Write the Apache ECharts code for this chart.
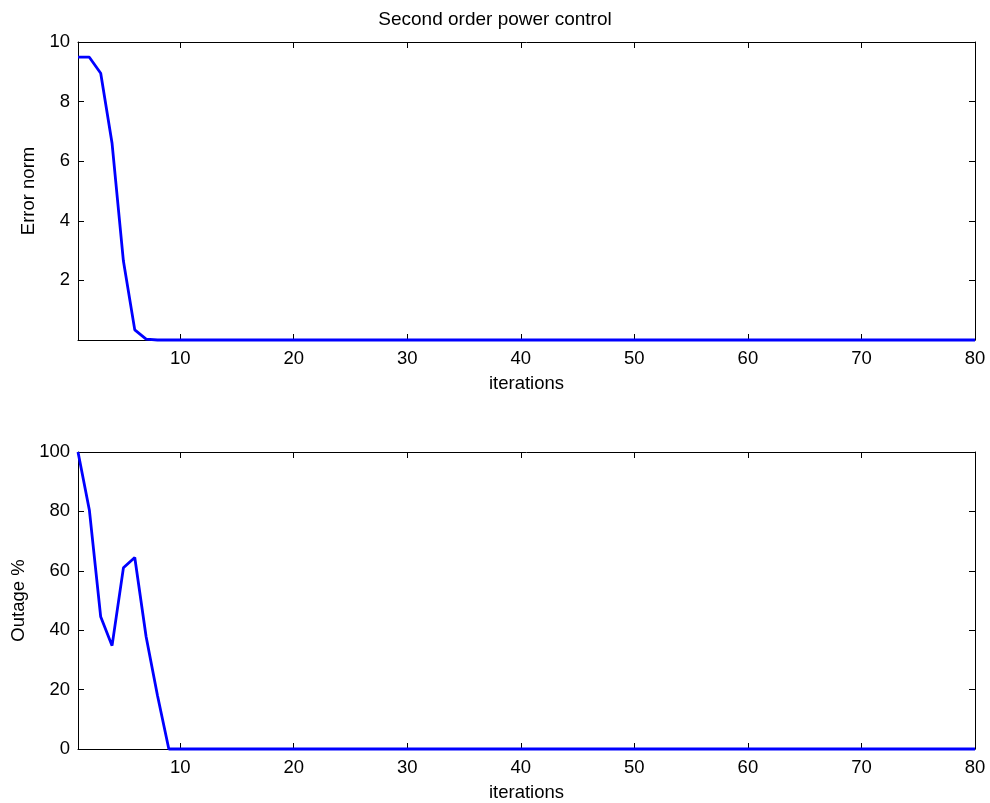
<!DOCTYPE html>
<html>
<head>
<meta charset="utf-8">
<script src="https://cdn.jsdelivr.net/npm/echarts@6/dist/echarts.min.js"></script>
<style>html,body{margin:0;padding:0;background:#fff}#c{width:990px;height:803px}</style>
</head>
<body>
<div id="c"></div>
<script>
var iterations = [1,2,3,4,5,6,7,8,9,10,11,12,13,14,15,16,17,18,19,20,21,22,23,24,25,26,27,28,29,30,31,32,33,34,35,36,37,38,39,40,41,42,43,44,45,46,47,48,49,50,51,52,53,54,55,56,57,58,59,60,61,62,63,64,65,66,67,68,69,70,71,72,73,74,75,76,77,78,79,80];
var errorNorm = [9.49,9.49,8.95,6.6,2.65,0.34,0.03,0,0,0,0,0,0,0,0,0,0,0,0,0,0,0,0,0,0,0,0,0,0,0,0,0,0,0,0,0,0,0,0,0,0,0,0,0,0,0,0,0,0,0,0,0,0,0,0,0,0,0,0,0,0,0,0,0,0,0,0,0,0,0,0,0,0,0,0,0,0,0,0,0];
var outage = [100,80.5,44.5,34.8,61,64.5,37.8,18,0,0,0,0,0,0,0,0,0,0,0,0,0,0,0,0,0,0,0,0,0,0,0,0,0,0,0,0,0,0,0,0,0,0,0,0,0,0,0,0,0,0,0,0,0,0,0,0,0,0,0,0,0,0,0,0,0,0,0,0,0,0,0,0,0,0,0,0,0,0,0,0];
var xTicks = [10,20,30,40,50,60,70,80];
var titleText = 'Second order power control';

function pairs(ys){ return iterations.map(function(x,i){ return [x, ys[i]]; }); }

var FONT = '"Liberation Sans", Arial, Helvetica, sans-serif';
var FS = 18.5;
var lineStyle = {color:'#000', width:1};

function xAx(grid, show) {
  return {
    type:'value', gridIndex:grid, min:1, max:80, position: show ? 'bottom':'top',
    name: show ? 'iterations' : '', nameLocation:'middle', nameGap: 34,
    nameTextStyle:{color:'#000', fontSize:FS, fontFamily:FONT},
    axisLine:{show:true, onZero:false, lineStyle:lineStyle},
    axisTick:{show:true, inside:true, length:6, customValues:xTicks, lineStyle:lineStyle},
    axisLabel:{show:show, customValues:xTicks, color:'#000', fontSize:FS, fontFamily:FONT, margin:9},
    splitLine:{show:false}
  };
}
function yAx(grid, show, min, max, interval, name, nameGap, hideZero) {
  return {
    type:'value', gridIndex:grid, min:min, max:max, interval:interval, position: show ? 'left':'right',
    name: show ? name : '', nameLocation:'middle', nameGap:nameGap,
    nameTextStyle:{color:'#000', fontSize:FS, fontFamily:FONT},
    axisLine:{show:true, onZero:false, lineStyle:lineStyle},
    axisTick:{show:true, inside:true, length:6, lineStyle:lineStyle},
    axisLabel:{show:show, color:'#000', fontSize:FS, fontFamily:FONT, margin:8,
      formatter:function(v){ return (hideZero && v===0) ? '' : String(v); }},
    splitLine:{show:false}
  };
}

var chart = echarts.init(document.getElementById('c'), null, {renderer:'canvas'});
chart.setOption({
  animation:false,
  backgroundColor:'#fff',
  title:{text:titleText, left:'center', top:5, textStyle:{color:'#000', fontSize:19, fontWeight:'normal', fontFamily:FONT}},
  grid:[
    {left:78, right:15, top:42, height:298, outerBoundsMode:'none', containLabel:false},
    {left:78, right:15, top:452, height:297, outerBoundsMode:'none', containLabel:false}
  ],
  xAxis:[xAx(0,true), xAx(0,false), xAx(1,true), xAx(1,false)],
  yAxis:[
    yAx(0,true,0,10,2,'Error norm',36,true), yAx(0,false,0,10,2,'',0,true),
    yAx(1,true,0,100,20,'Outage %',50,false), yAx(1,false,0,100,20,'',0,false)
  ],
  series:[
    {type:'line', xAxisIndex:0, yAxisIndex:0, data:pairs(errorNorm), showSymbol:false, symbol:'none',
     lineStyle:{color:'#0000ff', width:2.8}, clip:false},
    {type:'line', xAxisIndex:2, yAxisIndex:2, data:pairs(outage), showSymbol:false, symbol:'none',
     lineStyle:{color:'#0000ff', width:2.8}, clip:false}
  ]
});
</script>
</body>
</html>
